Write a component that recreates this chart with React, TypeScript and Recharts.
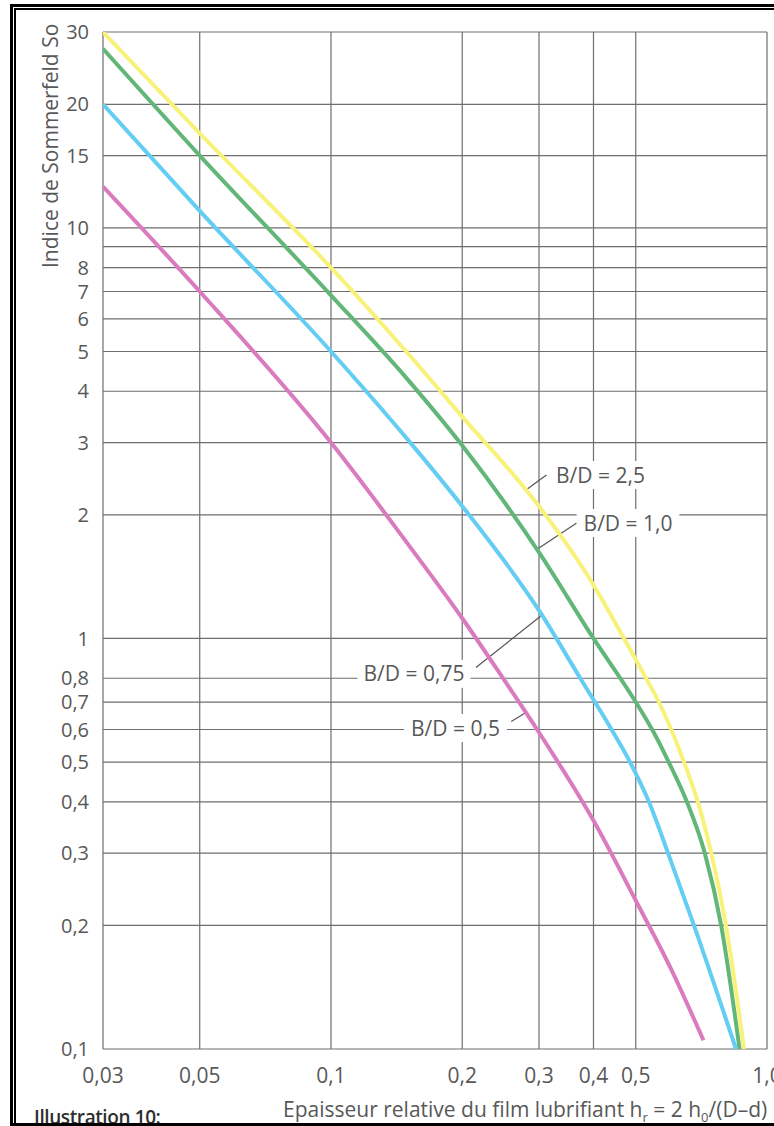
import React from "react";
import {
  LineChart,
  Line,
  XAxis,
  YAxis,
  CartesianGrid,
  ReferenceLine,
  ReferenceDot,
  Label,
} from "recharts";

// axes : epaisseur relative du film h_r (log) / indice de Sommerfeld So (log)
const hrTicks = [0.03, 0.05, 0.1, 0.2, 0.3, 0.4, 0.5, 1.0];
const soTicks = [0.1, 0.2, 0.3, 0.4, 0.5, 0.6, 0.7, 0.8, 1, 2, 3, 4, 5, 6, 7, 8, 9, 10, 15, 20, 30];
const soUnlabelled = [9];

// B/D = 2,5
const hrBD25 = [0.03, 0.05, 0.1, 0.15, 0.2, 0.3, 0.4, 0.47, 0.528, 0.565, 0.603, 0.645, 0.694, 0.745, 0.805, 0.886];
const soBD25 = [30, 17, 8.0, 4.95, 3.47, 2.1, 1.35, 1.0, 0.8, 0.7, 0.6, 0.5, 0.4, 0.3, 0.2, 0.1];

// B/D = 1,0
const hrBD10 = [0.03, 0.05, 0.1, 0.15, 0.2, 0.3, 0.4, 0.5, 0.55, 0.595, 0.655, 0.72, 0.785, 0.865];
const soBD10 = [27.3, 15.0, 6.85, 4.27, 2.95, 1.62, 1.0, 0.7, 0.59, 0.5, 0.4, 0.3, 0.2, 0.1];

// B/D = 0,75
const hrBD075 = [0.03, 0.05, 0.1, 0.15, 0.2, 0.3, 0.373, 0.44, 0.485, 0.536, 0.593, 0.68, 0.849];
const soBD075 = [20, 11.0, 5.0, 3.05, 2.1, 1.17, 0.8, 0.6, 0.5, 0.4, 0.3, 0.2, 0.1];

// B/D = 0,5
const hrBD05 = [0.03, 0.05, 0.1, 0.15, 0.2, 0.25, 0.3, 0.4, 0.5, 0.6, 0.715];
const soBD05 = [12.6, 7.0, 3.0, 1.7, 1.12, 0.79, 0.59, 0.36, 0.23, 0.158, 0.105];

const toPoints = (hr: number[], so: number[]) => hr.map((h, i) => ({ hr: h, so: so[i] }));

const curves = [
  { key: "bd25", data: toPoints(hrBD25, soBD25), color: "#f8f27a" },
  { key: "bd10", data: toPoints(hrBD10, soBD10), color: "#62b778" },
  { key: "bd075", data: toPoints(hrBD075, soBD075), color: "#64cdf3" },
  { key: "bd05", data: toPoints(hrBD05, soBD05), color: "#da7bbf" },
];

// etiquettes des courbes avec leur trait de rappel (coordonnees en donnees)
const notes = [
  { text: "B/D = 2,5", at: { hr: 0.415, so: 2.5 }, from: { hr: 0.28, so: 2.3 }, to: { hr: 0.312, so: 2.5 } },
  { text: "B/D = 1,0", at: { hr: 0.48, so: 1.91 }, from: { hr: 0.297, so: 1.65 }, to: { hr: 0.366, so: 1.91 } },
  { text: "B/D = 0,75", at: { hr: 0.155, so: 0.82 }, from: { hr: 0.215, so: 0.85 }, to: { hr: 0.305, so: 1.14 } },
  { text: "B/D = 0,5", at: { hr: 0.193, so: 0.605 }, from: { hr: 0.259, so: 0.628 }, to: { hr: 0.28, so: 0.66 } },
];

const FONT = "'Open Sans', 'Noto Sans', sans-serif";
const TEXT = "#585858";
const GRID = "#6e6e6e";

const fmtX = (v: number) => (v === 1 ? "1,0" : String(v).replace(".", ","));
const fmtY = (v: number) => (soUnlabelled.includes(v) ? "" : String(v).replace(".", ","));

const NoteBox = ({ cx, cy, text }: { cx: number; cy: number; text: string }) => {
  const w = text.length * 10.3 + 10;
  return (
    <g>
      <rect x={cx - w / 2} y={cy - 14} width={w} height={28} fill="#fff" />
      <text x={cx} y={cy} dy="0.36em" textAnchor="middle" fontSize={21} fill={TEXT} fontFamily={FONT}>
        {text}
      </text>
    </g>
  );
};

export default function App() {
  return (
    <div
      style={{
        position: "absolute",
        left: 0,
        top: 0,
        width: 774,
        height: 1126,
        overflow: "hidden",
        background: "#fff",
        fontFamily: FONT,
      }}
    >
      <LineChart width={774} height={1126} margin={{ top: 32, right: 7, bottom: 37, left: 20 }}>
        <CartesianGrid stroke={GRID} strokeWidth={1.2} />
        <XAxis
          dataKey="hr"
          type="number"
          scale="log"
          domain={[0.03, 1]}
          ticks={hrTicks}
          interval={0}
          allowDataOverflow
          height={40}
          tickLine={false}
          axisLine={false}
          tickMargin={13}
          tickFormatter={fmtX}
          tick={{ fontSize: 21, fill: TEXT, fontFamily: FONT }}
        >
          <Label
            content={() => (
              <text x={283} y={1117} fontSize={21} fill={TEXT} fontFamily={FONT}>
                Epaisseur relative du film lubrifiant h
                <tspan fontSize={13} dy={5}>r</tspan>
                <tspan dy={-5}> = 2 h</tspan>
                <tspan fontSize={13} dy={5}>0</tspan>
                <tspan dy={-5}>/(D–d)</tspan>
              </text>
            )}
          />
        </XAxis>
        <YAxis
          dataKey="so"
          type="number"
          scale="log"
          domain={[0.1, 30]}
          ticks={soTicks}
          interval={0}
          allowDataOverflow
          width={83}
          tickLine={false}
          axisLine={false}
          tickMargin={8}
          tickFormatter={fmtY}
          tick={{ fontSize: 20, fill: TEXT, fontFamily: FONT }}
        >
          <Label
            content={() => (
              <text
                x={58}
                y={268}
                transform="rotate(-90 58 268)"
                fontSize={21}
                fill={TEXT}
                fontFamily={FONT}
              >
                Indice de Sommerfeld So
              </text>
            )}
          />
        </YAxis>

        {notes.map((n) => (
          <ReferenceLine
            key={n.text + "-leader"}
            segment={[
              { x: n.from.hr, y: n.from.so },
              { x: n.to.hr, y: n.to.so },
            ]}
            stroke="#555"
            strokeWidth={1.2}
          />
        ))}
        {notes.map((n) => (
          <ReferenceDot
            key={n.text}
            x={n.at.hr}
            y={n.at.so}
            r={0}
            shape={(p: any) => <NoteBox cx={p.cx} cy={p.cy} text={n.text} />}
          />
        ))}

        {curves.map((c) => (
          <Line
            key={c.key}
            data={c.data}
            dataKey="so"
            type="monotone"
            stroke={c.color}
            strokeWidth={4}
            dot={false}
            activeDot={false}
            isAnimationActive={false}
          />
        ))}
      </LineChart>

      <div
        style={{
          position: "absolute",
          left: 34,
          top: 1108,
          fontSize: 19,
          lineHeight: "19px",
          fontWeight: 600,
          color: "#2e2e2e",
          letterSpacing: -0.4,
        }}
      >
        Illustration 10:
      </div>

      {/* double cadre du document scanne */}
      <div
        style={{
          position: "absolute",
          left: 10,
          top: 4,
          width: 800,
          height: 1122,
          boxSizing: "border-box",
          border: "3px solid #000",
          pointerEvents: "none",
        }}
      />
      <div
        style={{
          position: "absolute",
          left: 14,
          top: 8,
          width: 800,
          height: 1200,
          borderTop: "2px solid #000",
          borderLeft: "2px solid #000",
          pointerEvents: "none",
        }}
      />
    </div>
  );
}
